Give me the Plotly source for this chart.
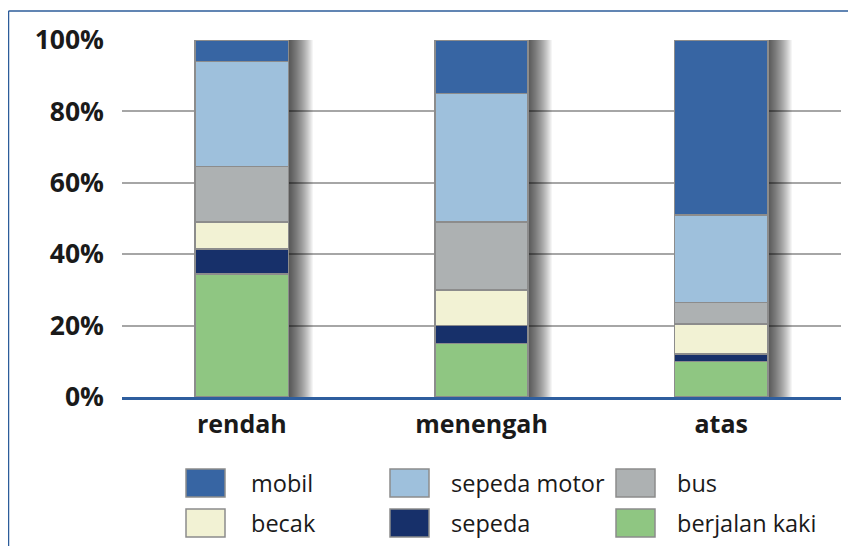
import plotly.graph_objects as go

# data (percent of trips)
kelompok = ["rendah", "menengah", "atas"]
berjalan_kaki = [34.5, 15, 10]
sepeda = [7, 5, 2]
becak = [7.5, 10, 8.5]
bus = [15.5, 19, 6]
sepeda_motor = [29.5, 36, 24.5]
mobil = [6, 15, 49]
y_ticks = [0, 20, 40, 60, 80, 100]

series = [
    ("berjalan kaki", berjalan_kaki, "#8FC682"),
    ("sepeda", sepeda, "#17306A"),
    ("becak", becak, "#F2F2D4"),
    ("bus", bus, "#ADB1B2"),
    ("sepeda motor", sepeda_motor, "#9EC0DC"),
    ("mobil", mobil, "#3765A3"),
]
totals = [sum(v) for v in zip(*[s[1] for s in series])]

# the page puts the figure 8px in from the top-left corner
OFF = 8
W, H = 856 - OFF, 546 - OFF
L, R, T, B = 122 - OFF, 15, 40 - OFF, 149
pw, ph = W - L - R, H - T - B
bar_w = 0.39
FONT = "Open Sans"

fig = go.Figure()

# soft shadow on the right side of each column
for k in range(24):
    d = (k + 1) * 1.0 / 240
    fig.add_trace(go.Bar(
        x=kelompok, y=totals, base=0, width=bar_w + d,
        offset=-bar_w / 2, marker_color="rgba(0,0,0,0.04)",
        marker_line_width=0, hoverinfo="skip", showlegend=False))

for name, vals, col in series:
    fig.add_trace(go.Bar(
        x=kelompok, y=vals, name=name, width=bar_w,
        marker=dict(color=col, line=dict(color="#8C8C8C", width=1.5)),
        showlegend=False))


def px_x(p):
    return (p - OFF - L) / pw


def px_y(p):
    return (H - B - (p - OFF)) / ph


shapes = []
annotations = []
# frame lines (top and left)
shapes.append(dict(type="line", xref="paper", yref="paper",
                   x0=px_x(8.5), x1=px_x(860), y0=px_y(11), y1=px_y(11),
                   line=dict(color="#2C5C9A", width=1.5)))
shapes.append(dict(type="line", xref="paper", yref="paper",
                   x0=px_x(8.5), x1=px_x(8.5), y0=px_y(11), y1=px_y(550),
                   line=dict(color="#2C5C9A", width=1.5)))

# legend, drawn by hand in a 2x3 grid
legend_order = [5, 4, 3, 2, 1, 0]
col_x = [186, 390, 616]
text_x = [249, 449, 675]
row_y = [469, 509]
for i, idx in enumerate(legend_order):
    r, c = divmod(i, 3)
    name, _, col = series[idx]
    shapes.append(dict(type="rect", xref="paper", yref="paper",
                       x0=px_x(col_x[c]), x1=px_x(col_x[c] + 39),
                       y0=px_y(row_y[r]), y1=px_y(row_y[r] + 28),
                       fillcolor=col, line=dict(color="#8C8C8C", width=1.5)))
    annotations.append(dict(text=name, xref="paper", yref="paper",
                            x=px_x(text_x[c]), y=px_y(row_y[r] + 14),
                            xanchor="left", yanchor="middle", showarrow=False,
                            font=dict(family=FONT, size=23.5, color="#1a1a1a")))

fig.update_layout(
    width=W, height=H,
    margin=dict(l=L, r=R, t=T, b=B),
    paper_bgcolor="white", plot_bgcolor="white",
    barmode="stack", bargap=0.6,
    showlegend=False,
    shapes=shapes, annotations=annotations,
    font=dict(family=FONT, color="#1a1a1a"),
)
fig.update_xaxes(
    showgrid=False, showline=True, linecolor="#2E5E9E", linewidth=2.5,
    ticks="", ticklabelstandoff=3,
    tickfont=dict(family=FONT, size=25, weight="bold", color="#1a1a1a"),
)
fig.update_yaxes(
    range=[0, 100], tickvals=y_ticks, ticktext=[f"{v}%" for v in y_ticks],
    showgrid=True, gridcolor="#A6A6A6", gridwidth=1.5, zeroline=False,
    showline=False, ticks="", ticklabelstandoff=17,
    tickfont=dict(family=FONT, size=26.5, weight="bold", color="#1a1a1a"),
)

fig.write_html("out.html")
